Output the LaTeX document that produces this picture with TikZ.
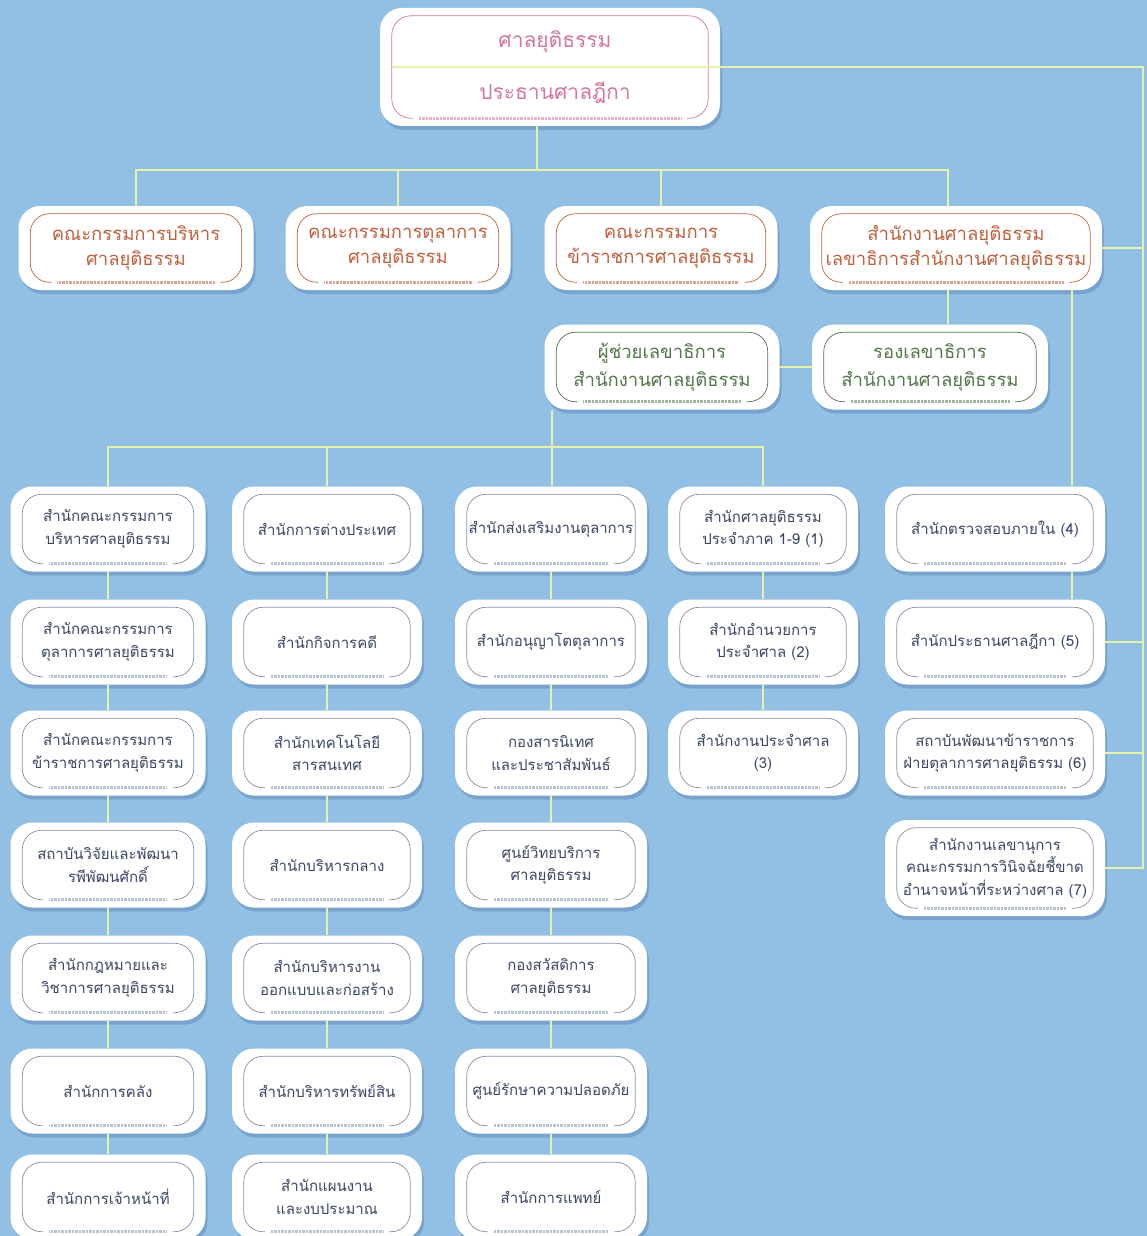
\documentclass[tikz,border=0pt]{standalone}
\usepackage{fontspec}
\setmainfont{Loma}[Script=Thai]
\usetikzlibrary{calc,shadows}
\definecolor{bg}{RGB}{146,192,228}
\definecolor{connc}{RGB}{228,243,168}
\definecolor{shadowc}{RGB}{70,110,160}
\definecolor{pinkc}{RGB}{212,118,160}
\definecolor{orangec}{RGB}{192,96,62}
\definecolor{greenc}{RGB}{84,118,76}
\definecolor{slatec}{RGB}{58,70,100}
\definecolor{slateb}{RGB}{130,146,172}
\tikzset{
  outerbox/.style={draw=none, fill=white, rounded corners=22pt, align=center, inner sep=0pt,
    drop shadow={shadow xshift=2pt, shadow yshift=-4pt, fill=shadowc, opacity=0.35}},
  conn/.style={draw=connc, line width=1.4pt},
  fonttop/.style={font=\fontsize{21}{26}\selectfont},
  fontmid/.style={font=\fontsize{18.5}{25}\selectfont},
  fontthree/.style={font=\fontsize{18.5}{28}\selectfont},
  fontlow/.style={font=\fontsize{15}{22.5}\selectfont},
}
% name, position, width, height, text colour, border colour, font style, text
\newcommand{\obox}[8]{%
  \node[outerbox, minimum width=#3, minimum height=#4, text=#5, #7] (#1) at #2 {#8};
  \draw[#6, line width=0.7pt, rounded corners=19pt] let \p1=(#1.south west), \p2=(#1.north east) in
    (\x1+33pt,\y1+8pt) -- (\x1+12pt,\y1+8pt) -- (\x1+12pt,\y2-8pt) -- (\x2-12pt,\y2-8pt)
    -- (\x2-12pt,\y1+8pt) -- (\x2-33pt,\y1+8pt);
  \draw[#6!55, line width=3pt, dash pattern=on 0.8pt off 0.6pt] let \p1=(#1.south west), \p2=(#1.north east) in
    (\x1+39pt,\y1+8pt) -- (\x2-39pt,\y1+8pt);
}
\begin{document}
\begin{tikzpicture}[x=1pt,y=-1pt]
\useasboundingbox (0,0) rectangle (1147,1236);
\fill[bg] (0,0) rectangle (1147,1236);

% ---------- top ----------
\obox{top}{(550,67)}{340pt}{118pt}{pinkc}{pinkc}{fonttop}{}
\node[text=pinkc, fonttop] (topa) at (555,42) {ศาลยุติธรรม};
\node[text=pinkc, fonttop] (topb) at (555,93) {ประธานศาลฎีกา};

% ---------- level 2 ----------
\obox{A}{(136,248)}{235pt}{84pt}{orangec}{orangec}{fontmid}{คณะกรรมการบริหาร\\ศาลยุติธรรม}
\obox{B}{(398,248)}{225pt}{84pt}{orangec}{orangec}{fontmid}{คณะกรรมการตุลาการ\\ศาลยุติธรรม}
\obox{C}{(661,248)}{233pt}{84pt}{orangec}{orangec}{fontmid}{คณะกรรมการ\\ข้าราชการศาลยุติธรรม}
\obox{D}{(956,248)}{292pt}{84pt}{orangec}{orangec}{fontmid}{สำนักงานศาลยุติธรรม\\เลขาธิการสำนักงานศาลยุติธรรม}

% ---------- level 3 ----------
\obox{asst}{(662,367)}{235pt}{85pt}{greenc}{greenc}{fontthree}{ผู้ช่วยเลขาธิการ\\สำนักงานศาลยุติธรรม}
\obox{rong}{(930,367)}{236pt}{85pt}{greenc}{greenc}{fontthree}{รองเลขาธิการ\\สำนักงานศาลยุติธรรม}

% ---------- column 1 ----------
\obox{a1}{(108,529)}{195pt}{85pt}{slatec}{slateb}{fontlow}{สำนักคณะกรรมการ\\บริหารศาลยุติธรรม}
\obox{a2}{(108,642)}{195pt}{85pt}{slatec}{slateb}{fontlow}{สำนักคณะกรรมการ\\ตุลาการศาลยุติธรรม}
\obox{a3}{(108,753)}{195pt}{85pt}{slatec}{slateb}{fontlow}{สำนักคณะกรรมการ\\ข้าราชการศาลยุติธรรม}
\obox{a4}{(108,865)}{195pt}{85pt}{slatec}{slateb}{fontlow}{สถาบันวิจัยและพัฒนา\\รพีพัฒนศักดิ์}
\obox{a5}{(108,978)}{195pt}{85pt}{slatec}{slateb}{fontlow}{สำนักกฎหมายและ\\วิชาการศาลยุติธรรม}
\obox{a6}{(108,1091)}{195pt}{85pt}{slatec}{slateb}{fontlow}{สำนักการคลัง}
\obox{a7}{(108,1197)}{195pt}{85pt}{slatec}{slateb}{fontlow}{สำนักการเจ้าหน้าที่}

% ---------- column 2 ----------
\obox{b1}{(327,529)}{190pt}{85pt}{slatec}{slateb}{fontlow}{สำนักการต่างประเทศ}
\obox{b2}{(327,642)}{190pt}{85pt}{slatec}{slateb}{fontlow}{สำนักกิจการคดี}
\obox{b3}{(327,753)}{190pt}{85pt}{slatec}{slateb}{fontlow}{สำนักเทคโนโลยี\\สารสนเทศ}
\obox{b4}{(327,865)}{190pt}{85pt}{slatec}{slateb}{fontlow}{สำนักบริหารกลาง}
\obox{b5}{(327,978)}{190pt}{85pt}{slatec}{slateb}{fontlow}{สำนักบริหารงาน\\ออกแบบและก่อสร้าง}
\obox{b6}{(327,1091)}{190pt}{85pt}{slatec}{slateb}{fontlow}{สำนักบริหารทรัพย์สิน}
\obox{b7}{(327,1197)}{190pt}{85pt}{slatec}{slateb}{fontlow}{สำนักแผนงาน\\และงบประมาณ}

% ---------- column 3 ----------
\obox{c1}{(551,529)}{192pt}{85pt}{slatec}{slateb}{fontlow}{สำนักส่งเสริมงานตุลาการ}
\obox{c2}{(551,642)}{192pt}{85pt}{slatec}{slateb}{fontlow}{สำนักอนุญาโตตุลาการ}
\obox{c3}{(551,753)}{192pt}{85pt}{slatec}{slateb}{fontlow}{กองสารนิเทศ\\และประชาสัมพันธ์}
\obox{c4}{(551,865)}{192pt}{85pt}{slatec}{slateb}{fontlow}{ศูนย์วิทยบริการ\\ศาลยุติธรรม}
\obox{c5}{(551,978)}{192pt}{85pt}{slatec}{slateb}{fontlow}{กองสวัสดิการ\\ศาลยุติธรรม}
\obox{c6}{(551,1091)}{192pt}{85pt}{slatec}{slateb}{fontlow}{ศูนย์รักษาความปลอดภัย}
\obox{c7}{(551,1197)}{192pt}{85pt}{slatec}{slateb}{fontlow}{สำนักการแพทย์}

% ---------- column 4 ----------
\obox{d1}{(763,529)}{190pt}{85pt}{slatec}{slateb}{fontlow}{สำนักศาลยุติธรรม\\ประจำภาค 1-9 (1)}
\obox{d2}{(763,642)}{190pt}{85pt}{slatec}{slateb}{fontlow}{สำนักอำนวยการ\\ประจำศาล (2)}
\obox{d3}{(763,753)}{190pt}{85pt}{slatec}{slateb}{fontlow}{สำนักงานประจำศาล\\(3)}

% ---------- column 5 ----------
\obox{e1}{(995,529)}{220pt}{85pt}{slatec}{slateb}{fontlow}{สำนักตรวจสอบภายใน (4)}
\obox{e2}{(995,642)}{220pt}{85pt}{slatec}{slateb}{fontlow}{สำนักประธานศาลฎีกา (5)}
\obox{e3}{(995,753)}{220pt}{85pt}{slatec}{slateb}{fontlow}{สถาบันพัฒนาข้าราชการ\\ฝ่ายตุลาการศาลยุติธรรม (6)}
\obox{e4}{(995,868)}{220pt}{96pt}{slatec}{slateb}{fontlow}{สำนักงานเลขานุการ\\คณะกรรมการวินิจฉัยชี้ขาด\\อำนาจหน้าที่ระหว่างศาล (7)}

% ---------- connectors ----------
\coordinate (t0) at (537,170);
\coordinate (dx) at (948,170);
\coordinate (ex) at (1072,0);
\coordinate (r0) at (1143,67);
\coordinate (ax) at (552,447);

% divider through top box and right-hand trunk
\draw[conn] ([xshift=12pt]top.west) -- (r0) -- (r0 |- e4.east) -- (e4.east);
\draw[conn] (D.east) -- (D.east -| r0);
\draw[conn] (e2.east) -- (e2.east -| r0);
\draw[conn] (e3.east) -- (e3.east -| r0);

% top to level 2
\draw[conn] (top.south -| t0) -- (t0);
\draw[conn] (A.north) -- (A.north |- t0) -- (dx) -- (D.north -| dx);
\draw[conn] (B.north) -- (B.north |- t0);
\draw[conn] (C.north) -- (C.north |- t0);

% level 2 to level 3 and column 5
\draw[conn] (D.south -| dx) -- (rong.north -| dx);
\draw[conn] (asst.east) -- (rong.west);
\draw[conn] (D.south -| ex) -- (e1.north -| ex);
\draw[conn] (e1.south -| ex) -- (e2.north -| ex);

% assistant to departments
\draw[conn] (asst.south -| ax) -- (ax) -- (c1.north -| ax);
\draw[conn] (a1.north) -- (a1.north |- ax) -- (d1.north |- ax) -- (d1.north);
\draw[conn] (b1.north) -- (b1.north |- ax);

% column chains
\foreach \c/\n in {a/7,b/7,c/7,d/3}{
  \pgfmathtruncatemacro{\last}{\n-1}
  \foreach \i in {1,...,\last}{
    \pgfmathtruncatemacro{\j}{\i+1}
    \draw[conn] (\c\i.south) -- (\c\j.north);
  }
}
\end{tikzpicture}
\end{document}
